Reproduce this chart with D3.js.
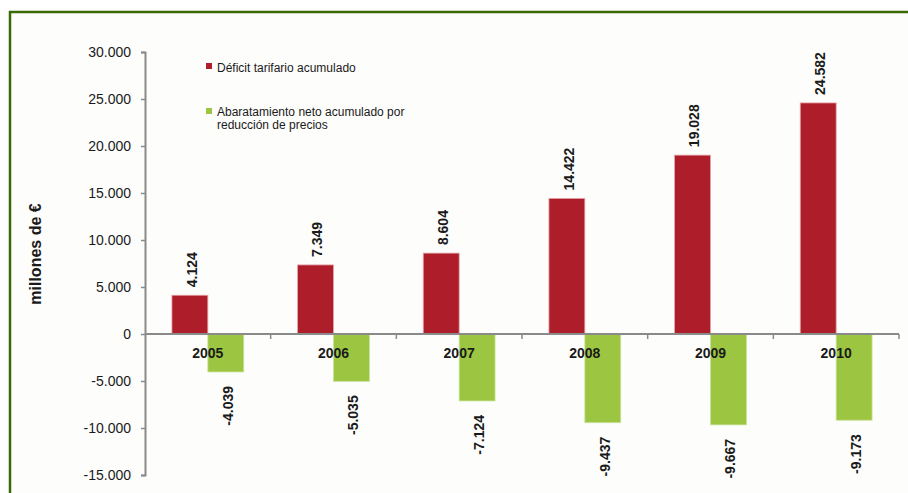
<!DOCTYPE html>
<html>
<head>
<meta charset="utf-8">
<script src="https://cdn.jsdelivr.net/npm/d3@7"></script>
<style>
  body { margin:0; background:#fff; }
  svg text { font-family:"Liberation Sans", Arial, sans-serif; fill:#1a1a1a; }
</style>
</head>
<body>
<script>
// data
var years = ["2005","2006","2007","2008","2009","2010"];
var deficit = [4124,7349,8604,14422,19028,24582];
var abaratamiento = [-4039,-5035,-7124,-9437,-9667,-9173];
var series = ["Déficit tarifario acumulado","Abaratamiento neto acumulado por reducción de precios"];
var yTicks = [-15000,-10000,-5000,0,5000,10000,15000,20000,25000,30000];

var width = 908, height = 493;
var colors = ["#ae1e2a","#9cc641"];
var strokes = ["#e6a3a8","#c9e39a"];

var svg = d3.select("body").append("svg")
  .attr("width",width)
  .attr("height",height);

// frame
svg.append("rect")
  .attr("x",10).attr("y",12)
  .attr("width",width+20).attr("height",height+20)
  .attr("fill","#fdfdfc")
  .attr("stroke","#3b6a05")
  .attr("stroke-width",2.5);

var fmt = function(v){
  var s = d3.format(",")(v);
  return s.replace(/,/g,".").replace("−","-");
};

var y = d3.scaleLinear().domain([-15000,30000]).range([475,52]);
var x = d3.scaleBand().domain(years).range([145,899]);
var x1 = d3.scaleBand().domain([0,1]).range([0,x.bandwidth()]).paddingOuter(0.75);

// bars
var rows = years.map(function(yr,i){ return {year:yr, vals:[deficit[i],abaratamiento[i]]}; });

var groups = svg.selectAll("g.yr")
  .data(rows)
  .enter().append("g")
  .attr("class","yr")
  .attr("transform",function(d){ return "translate("+x(d.year)+",0)"; });

groups.selectAll("rect")
  .data(function(d){ return d.vals; })
  .enter().append("rect")
  .attr("x",function(d,i){ return x1(i); })
  .attr("width",x1.bandwidth())
  .attr("y",function(d){ return y(Math.max(0,d)); })
  .attr("height",function(d){ return Math.abs(y(d)-y(0)); })
  .attr("fill",function(d,i){ return colors[i]; })
  .attr("stroke",function(d,i){ return strokes[i]; })
  .attr("stroke-width",0.8);

// value labels, rotated
groups.selectAll("text.val")
  .data(function(d){ return d.vals; })
  .enter().append("text")
  .attr("class","val")
  .attr("transform",function(d,i){
    var cx = x1(i)+x1.bandwidth()/2+2;
    var cy = d>=0 ? y(d)-8 : y(d)+14;
    return "translate("+cx+","+cy+") rotate(-90)";
  })
  .attr("dy","0.35em")
  .attr("text-anchor",function(d){ return d>=0 ? "start" : "end"; })
  .style("font-size","14px")
  .style("font-weight","bold")
  .text(fmt);

// y axis
var yAxis = svg.append("g")
  .attr("transform","translate(145,0)")
  .call(d3.axisLeft(y).tickValues(yTicks).tickSize(4).tickPadding(10).tickFormat(fmt));
yAxis.select(".domain").attr("stroke","#8a8a8a").attr("stroke-width",2);
yAxis.selectAll(".tick line").attr("stroke","#8a8a8a").attr("stroke-width",1.5);
yAxis.selectAll(".tick text").style("font-size","14px").attr("fill","#1a1a1a");

// x axis line with category boundary ticks
svg.append("line")
  .attr("x1",145).attr("x2",899)
  .attr("y1",y(0)).attr("y2",y(0))
  .attr("stroke","#8a8a8a").attr("stroke-width",2);
svg.selectAll("line.xt")
  .data(years)
  .enter().append("line")
  .attr("class","xt")
  .attr("x1",function(d){ return x(d)+x.bandwidth(); })
  .attr("x2",function(d){ return x(d)+x.bandwidth(); })
  .attr("y1",y(0)).attr("y2",y(0)+5)
  .attr("stroke","#8a8a8a").attr("stroke-width",1.5);

svg.selectAll("text.yr")
  .data(years)
  .enter().append("text")
  .attr("class","yr")
  .attr("x",function(d){ return x(d)+x.bandwidth()/2; })
  .attr("y",y(0)+24)
  .attr("text-anchor","middle")
  .style("font-size","14px")
  .style("font-weight","bold")
  .text(function(d){ return d; });

// y title
svg.append("text")
  .attr("transform","translate(35,254) rotate(-90)")
  .attr("dy","0.35em")
  .attr("text-anchor","middle")
  .style("font-size","16px")
  .style("font-weight","bold")
  .text("millones de €");

// legend
var legend = svg.append("g").attr("transform","translate(206,0)");
legend.append("rect").attr("x",0).attr("y",63).attr("width",6).attr("height",6).attr("fill",colors[0]);
legend.append("text").attr("x",11).attr("y",72).style("font-size","12px").text(series[0]);
legend.append("rect").attr("x",0).attr("y",108).attr("width",6).attr("height",6).attr("fill",colors[1]);
var t2 = legend.append("text").attr("x",11).attr("y",116).style("font-size","12px");
t2.append("tspan").attr("x",11).text("Abaratamiento neto acumulado por");
t2.append("tspan").attr("x",11).attr("dy",13).text("reducción de precios");
</script>
</body>
</html>
